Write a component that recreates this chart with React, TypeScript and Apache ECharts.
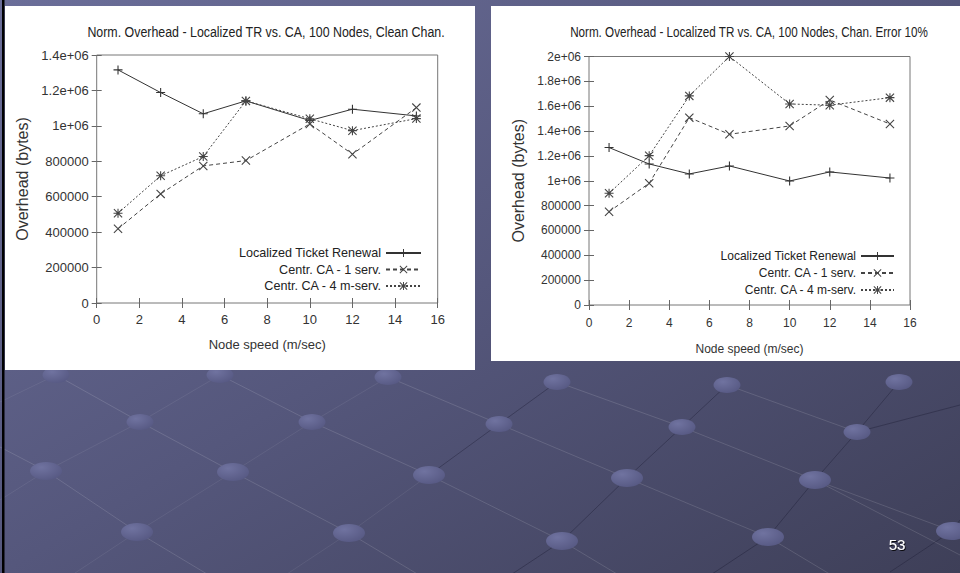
import React, { useEffect, useRef } from 'react';
import * as echarts from 'echarts';

// ---------- data ----------
const speeds = [1, 3, 5, 7, 10, 12, 15];
const seriesNames = ['Localized Ticket Renewal', 'Centr. CA - 1 serv.', 'Centr. CA - 4 m-serv.'];

const cleanLocalizedTR = [1316000, 1188000, 1068000, 1141000, 1030000, 1094000, 1056000];
const clean1Serv = [419000, 616000, 774000, 804000, 1011000, 840000, 1103000];
const clean4MServ = [507000, 718000, 827000, 1141000, 1040000, 973000, 1041000];

const errLocalizedTR = [1267000, 1135000, 1055000, 1119000, 998000, 1071000, 1022000];
const err1Serv = [751000, 980000, 1508000, 1374000, 1441000, 1650000, 1457000];
const err4MServ = [899000, 1202000, 1683000, 2000000, 1618000, 1608000, 1669000];

const xTickLabels = ['0', '2', '4', '6', '8', '10', '12', '14', '16'];
const yTickLabelsClean = ['0', '200000', '400000', '600000', '800000', '1e+06', '1.2e+06', '1.4e+06'];
const yTickLabelsError = ['0', '200000', '400000', '600000', '800000', '1e+06', '1.2e+06', '1.4e+06', '1.6e+06', '1.8e+06', '2e+06'];

const chartTitles = [
  'Norm. Overhead - Localized TR vs. CA, 100 Nodes, Clean Chan.',
  'Norm. Overhead - Localized TR vs. CA, 100 Nodes, Chan. Error 10%',
];
const xAxisTitle = 'Node speed (m/sec)';
const yAxisTitle = 'Overhead (bytes)';
const pageNumber = '53';

// ---------- decoration (background lattice) ----------
const beadRows: number[][][] = [
  [[56, 375], [220, 375], [388, 377], [557, 382], [727, 385], [899, 382]],
  [[140, 422], [312, 422], [499, 424], [682, 427], [857, 432]],
  [[46, 471], [233, 472], [429, 475], [627, 478], [815, 480]],
  [[137, 532], [349, 533], [562, 541], [768, 537], [952, 531]],
];

const FONT = "'Liberation Sans', Arial, sans-serif";

const PLUS = 'path://M0,4.4H10V5.6H0Z M4.4,0H5.6V10H4.4Z';
const CROSS = 'path://M0,0.85L0.85,0L10,9.15L9.15,10Z M9.15,0L10,0.85L0.85,10L0,9.15Z';
const STAR =
  'path://M0,0.85L0.85,0L10,9.15L9.15,10Z M9.15,0L10,0.85L0.85,10L0,9.15Z M0,4.4H10V5.6H0Z M4.4,0H5.6V10H4.4Z M3.3,3.3H6.7V6.7H3.3Z';

function buildDecor(): any[] {
  const els: any[] = [];
  els.push({
    type: 'rect',
    z: -10,
    shape: { x: 0, y: 0, width: 960, height: 573 },
    style: {
      fill: new echarts.graphic.LinearGradient(0, 0, 1, 1, [
        { offset: 0, color: '#6b6e99' },
        { offset: 0.5, color: '#55577c' },
        { offset: 1, color: '#3e3f58' },
      ]),
    },
  });
  const light = 'rgba(255,255,255,0.13)';
  const faint = 'rgba(255,255,255,0.07)';
  const dark = 'rgba(25,25,50,0.38)';
  const lines: [number[], number[], string][] = [];
  const R = beadRows;
  for (let i = 0; i < R[1].length; i++) lines.push([R[0][i], R[1][i], light]);
  for (let i = 0; i < R[1].length - 1; i++) lines.push([R[1][i], R[2][i + 1], light]);
  for (let i = 0; i < R[2].length; i++) lines.push([R[2][i], R[3][i], light]);
  for (let i = 0; i < R[1].length; i++) {
    const a = R[0][i + 1], b = R[1][i];
    lines.push([a, b, (a[0] + b[0]) / 2 > 450 ? dark : faint]);
  }
  for (let i = 0; i < R[1].length; i++) {
    const a = R[1][i], b = R[2][i];
    lines.push([a, b, (a[0] + b[0]) / 2 > 450 ? dark : faint]);
  }
  for (let i = 1; i < R[2].length; i++) {
    const a = R[2][i], b = R[3][i - 1];
    lines.push([a, b, (a[0] + b[0]) / 2 > 450 ? dark : faint]);
  }
  for (let i = 0; i < R[3].length; i++) {
    const p = R[3][i];
    lines.push([p, [p[0] + 70, p[1] + 42], light]);
    lines.push([p, [p[0] - 62, p[1] + 41], p[0] > 450 ? dark : faint]);
  }
  lines.push([[0, 447], R[2][0], light]);
  lines.push([R[2][0], [0, 500], faint]);
  lines.push([R[0][0], [0, 402], faint]);
  lines.push([R[1][4], [960, 405], dark]);
  lines.push([R[2][4], [960, 555], light]);
  lines.push([R[3][4], [960, 520], dark]);
  lines.forEach(([a, b, c]) => {
    els.push({
      type: 'line',
      z: -9,
      shape: { x1: a[0], y1: a[1], x2: b[0], y2: b[1] },
      style: { stroke: c, lineWidth: 1 },
    });
  });
  R.forEach((row, ri) => {
    row.forEach((p) => {
      const big = ri >= 2;
      els.push({
        type: 'ellipse',
        z: -8,
        shape: { cx: p[0], cy: p[1], rx: big ? 16 : 13.5, ry: big ? 9 : 8 },
        style: {
          fill: new echarts.graphic.RadialGradient(0.35, 0.3, 0.85, [
            { offset: 0, color: '#7073a0' },
            { offset: 1, color: '#545680' },
          ]),
        },
      });
    });
  });
  els.push({ type: 'rect', z: -7, shape: { x: 2, y: 0, width: 2.5, height: 573 }, style: { fill: '#000' } });
  els.push({ type: 'rect', z: -6, shape: { x: 5, y: 6, width: 470, height: 364 }, style: { fill: '#fff' } });
  els.push({ type: 'rect', z: -6, shape: { x: 491, y: 6, width: 469, height: 355 }, style: { fill: '#fff' } });
  els.push({
    type: 'text', z: 5, x: 266, y: 32, scaleX: 0.827,
    style: { text: chartTitles[0], fontFamily: FONT, fontSize: 15, fill: '#222', align: 'center', verticalAlign: 'middle' },
  });
  els.push({
    type: 'text', z: 5, x: 749, y: 32, scaleX: 0.777,
    style: { text: chartTitles[1], fontFamily: FONT, fontSize: 15, fill: '#222', align: 'center', verticalAlign: 'middle' },
  });
  els.push({
    type: 'text', z: 5, x: 897, y: 544,
    style: {
      text: pageNumber, fontFamily: FONT, fontSize: 15, fill: '#fff', align: 'center', verticalAlign: 'middle',
      textShadowColor: 'rgba(0,0,0,0.85)', textShadowOffsetX: 1, textShadowOffsetY: 1, textShadowBlur: 1,
    },
  });
  return els;
}

function makeSeries(name: string, ys: number[], axisIdx: number, symbol: string, dash: any, color: string) {
  return {
    type: 'line',
    name,
    xAxisIndex: axisIdx,
    yAxisIndex: axisIdx,
    data: speeds.map((s, i) => [s, ys[i]]),
    symbol,
    symbolSize: 9,
    showAllSymbol: true,
    lineStyle: { color, width: 1, type: dash },
    itemStyle: { color, borderWidth: 0 },
    z: 3,
  };
}

function xAxes(gridIndex: number, nameGap: number, labelMargin: number, fontSize: number) {
  const common = {
    type: 'value', gridIndex, min: 0, max: 16, interval: 2,
    axisLine: { show: false },
    axisTick: { inside: true, length: 5, lineStyle: { color: '#666' } },
    splitLine: { show: false },
  };
  return [
    {
      ...common,
      position: 'bottom',
      axisLabel: {
        margin: labelMargin, color: '#333', fontFamily: FONT, fontSize,
        formatter: (v: number) => xTickLabels[Math.round(v / 2)] ?? '',
      },
      name: xAxisTitle, nameLocation: 'middle', nameGap,
      nameTextStyle: { fontFamily: FONT, fontSize, color: '#333' },
    },
    { ...common, position: 'top', axisLabel: { show: false } },
  ];
}

function yAxes(gridIndex: number, max: number, labels: string[], nameGap: number, fontSize: number) {
  const common = {
    type: 'value', gridIndex, min: 0, max, interval: 200000,
    axisLine: { show: false },
    axisTick: { inside: true, length: 5, lineStyle: { color: '#666' } },
    splitLine: { show: false },
  };
  return [
    {
      ...common,
      position: 'left',
      axisLabel: {
        margin: 8, color: '#333', fontFamily: FONT, fontSize,
        formatter: (v: number) => labels[Math.round(v / 200000)] ?? '',
      },
      name: yAxisTitle, nameLocation: 'middle', nameGap,
      nameTextStyle: { fontFamily: FONT, fontSize: 16, color: '#333' },
    },
    { ...common, position: 'right', axisLabel: { show: false } },
  ];
}

export default function App() {
  const ref = useRef<HTMLDivElement>(null);
  useEffect(() => {
    if (!ref.current) return;
    const chart = echarts.init(ref.current, undefined, { renderer: 'svg' });
    const legendCommon = {
      orient: 'vertical', align: 'right', itemHeight: 10, padding: 0, selectedMode: false,
      data: seriesNames,
    };
    const option: any = {
      animation: false,
      graphic: { elements: buildDecor() },
      grid: [
        { left: 96.7, top: 55, width: 341, height: 248, show: true, borderColor: '#777', borderWidth: 1, backgroundColor: 'transparent' },
        { left: 589, top: 56.5, width: 321, height: 248.5, show: true, borderColor: '#777', borderWidth: 1, backgroundColor: 'transparent' },
      ],
      xAxis: [...xAxes(0, 35, 10, 13), ...xAxes(1, 38, 12, 12)],
      yAxis: [...yAxes(0, 1400000, yTickLabelsClean, 66, 13), ...yAxes(1, 2000000, yTickLabelsError, 63, 12)],
      legend: [
        {
          ...legendCommon, right: 538, top: 245.5, itemWidth: 35, itemGap: 1.5,
          textStyle: { fontFamily: FONT, fontSize: 12.6, color: '#222', lineHeight: 15 },
        },
        {
          ...legendCommon, right: 65, top: 248.5, itemWidth: 33, itemGap: 2,
          textStyle: { fontFamily: FONT, fontSize: 12, color: '#222', lineHeight: 15 },
        },
      ],
      series: [
        makeSeries(seriesNames[0], cleanLocalizedTR, 0, PLUS, 'solid', '#333'),
        makeSeries(seriesNames[1], clean1Serv, 0, CROSS, [4, 3], '#444'),
        makeSeries(seriesNames[2], clean4MServ, 0, STAR, [2, 2], '#444'),
        makeSeries(seriesNames[0], errLocalizedTR, 2, PLUS, 'solid', '#333'),
        makeSeries(seriesNames[1], err1Serv, 2, CROSS, [4, 3], '#444'),
        makeSeries(seriesNames[2], err4MServ, 2, STAR, [2, 2], '#444'),
      ],
    };
    chart.setOption(option);
    return () => chart.dispose();
  }, []);
  return <div ref={ref} style={{ position: 'absolute', left: 0, top: 0, width: 960, height: 573 }} />;
}
